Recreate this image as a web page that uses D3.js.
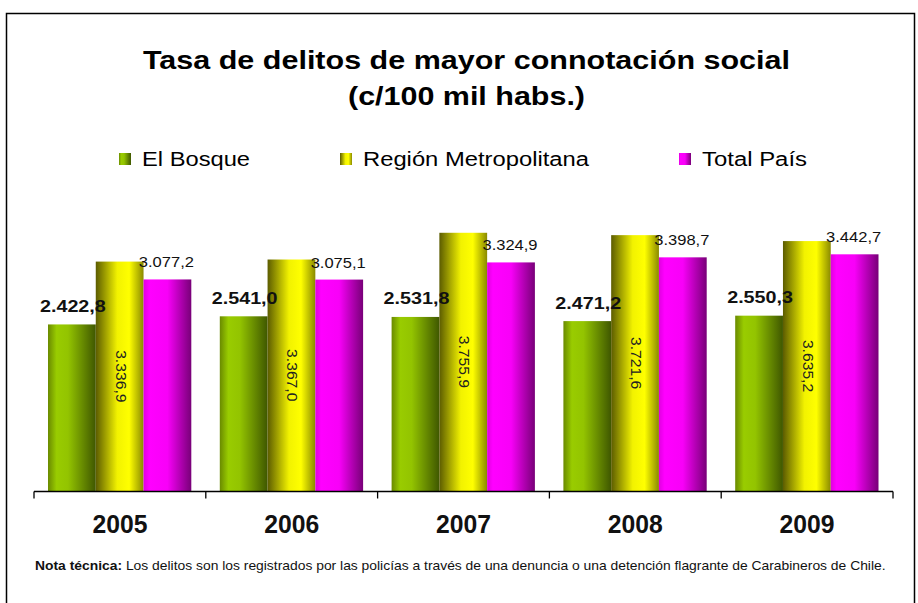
<!DOCTYPE html>
<html><head><meta charset="utf-8">
<script src="https://cdn.jsdelivr.net/npm/d3@7/dist/d3.min.js"></script>
<style>
html,body{margin:0;padding:0;background:#fff;}
svg{display:block;font-family:"Liberation Sans",Arial,sans-serif;}
</style></head>
<body>
<svg id="chart" width="918" height="603"></svg>
<script>
const years = ["2005","2006","2007","2008","2009"];
const seriesNames = ["El Bosque","Región Metropolitana","Total País"];
const elBosque = [2422.8, 2541.0, 2531.8, 2471.2, 2550.3];
const regionMetro = [3336.9, 3367.0, 3755.9, 3721.6, 3635.2];
const totalPais = [3077.2, 3075.1, 3324.9, 3398.7, 3442.7];
const titleLines = ["Tasa de delitos de mayor connotación social","(c/100 mil habs.)"];
const noteBold = "Nota técnica:";
const noteText = " Los delitos son los registrados por las policías a través de una denuncia o una detención flagrante de Carabineros de Chile.";

const seriesValues = [elBosque, regionMetro, totalPais];
const gradStops = [
  [[0,"#6a8a00"],[0.18,"#99cc00"],[0.42,"#93c400"],[1,"#3f5700"]],
  [[0,"#5c5c00"],[0.45,"#f2f200"],[0.7,"#ffff00"],[1,"#8a8a00"]],
  [[0,"#e000e0"],[0.12,"#ff00ff"],[0.5,"#f800f8"],[1,"#780078"]]
];

const svg = d3.select("#chart");
const loc = d3.formatLocale({decimal:",", thousands:".", grouping:[3], currency:["",""]});
const fmt = loc.format(",.1f");

const defs = svg.append("defs");
gradStops.forEach((stops,i)=>{
  const g = defs.append("linearGradient").attr("id","g"+i).attr("x1","0").attr("x2","1").attr("y1","0").attr("y2","0");
  stops.forEach(s=>g.append("stop").attr("offset",s[0]).attr("stop-color",s[1]));
});

function fitWidth(sel, w){ sel.attr("textLength", w).attr("lengthAdjust","spacingAndGlyphs"); }
function stretch(sel, k){ sel.each(function(){ const L=this.getComputedTextLength(); d3.select(this).attr("textLength", L*k).attr("lengthAdjust","spacingAndGlyphs"); }); }

// frame
svg.append("path").attr("d","M6.5,620 V13.5 H914.5 V620").attr("fill","none").attr("stroke","#000").attr("stroke-width",1.5);

// title
const t1 = svg.append("text").attr("x",466.5).attr("y",69).attr("text-anchor","middle")
  .attr("font-size",26).attr("font-weight","bold").attr("fill","#000").text(titleLines[0]);
fitWidth(t1,647);
const t2 = svg.append("text").attr("x",466.5).attr("y",105).attr("text-anchor","middle")
  .attr("font-size",26).attr("font-weight","bold").attr("fill","#000").text(titleLines[1]);
fitWidth(t2,237);

// legend
const legendX = [119, 340, 679];
const legendW = [108, 226, 105];
seriesNames.forEach((n,i)=>{
  svg.append("rect").attr("x",legendX[i]).attr("y",153).attr("width",12).attr("height",12).attr("fill","url(#g"+i+")");
  const t = svg.append("text").attr("x",legendX[i]+23).attr("y",165.5).attr("font-size",20).attr("fill","#000").text(n);
  fitWidth(t, legendW[i]);
});

// scales
const x0 = d3.scaleBand().domain(years).range([34, 893]).padding(0);
const bw = x0.bandwidth();
const x1 = d3.scaleBand().domain(seriesNames).range([14, bw-14.5]).padding(0);
const y = d3.scaleLinear().domain([0,4000]).range([491, 216]);

const groups = svg.append("g").selectAll("g").data(years).join("g")
  .attr("transform", d=>`translate(${x0(d)},0)`);

groups.each(function(yr, yi){
  const g = d3.select(this);
  seriesNames.forEach((s, si)=>{
    const v = seriesValues[si][yi];
    g.append("rect").attr("x", x1(s)).attr("y", y(v)).attr("width", x1.bandwidth())
      .attr("height", y(0)-y(v)).attr("fill","url(#g"+si+")");
  });
});

// labels
groups.each(function(yr, yi){
  const g = d3.select(this);
  const cx = s => x1(s) + x1.bandwidth()/2;
  const v0 = elBosque[yi];
  const a = g.append("text").attr("x", cx(seriesNames[0])+1).attr("y", y(v0)-12.5)
    .attr("text-anchor","middle").attr("font-size",17).attr("font-weight","bold").attr("fill","#111").text(fmt(v0));
  stretch(a, 1.16);
  const v1 = regionMetro[yi];
  const my = (y(v1)+y(0))/2;
  const b = g.append("text").attr("transform", `translate(${cx(seriesNames[1])+1},${my}) rotate(90)`)
    .attr("text-anchor","middle").attr("dominant-baseline","central").attr("font-size",14).attr("fill","#222").text(fmt(v1));
  stretch(b, 1.12);
  const v2 = totalPais[yi];
  const c = g.append("text").attr("x", cx(seriesNames[2])-1).attr("y", y(v2)-12)
    .attr("text-anchor","middle").attr("font-size",14).attr("fill","#111").text(fmt(v2));
  stretch(c, 1.18);
});

// x axis
const axis = d3.axisBottom(x0).tickSize(0).tickPadding(0).tickFormat("");
const ax = svg.append("g").attr("transform","translate(0,491.5)").call(axis);
ax.select(".domain").attr("stroke","#000").attr("stroke-width",1.3).attr("d","M34,0H893");
const bounds = years.map(d=>x0(d)).concat([x0.range()[1]]);
ax.selectAll(".bnd").data(bounds).join("line").attr("class","bnd")
  .attr("x1",d=>d).attr("x2",d=>d).attr("y1",0).attr("y2",7).attr("stroke","#000").attr("stroke-width",1.3);
ax.selectAll(".yr").data(years).join("text").attr("class","yr")
  .attr("x", d=>x0(d)+bw/2).attr("y", 41).attr("text-anchor","middle")
  .attr("font-size",25).attr("font-weight","bold").attr("fill","#111")
  .attr("font-family","'Liberation Sans',Arial,sans-serif").text(d=>d)
  .attr("textLength",55).attr("lengthAdjust","spacingAndGlyphs");

// note
const note = svg.append("text").attr("font-size",12.5).attr("fill","#111");
note.append("tspan").attr("font-weight","bold").text(noteBold);
note.append("tspan").text(noteText);
const nw = note.node().getComputedTextLength();
note.attr("transform", `translate(35,570) scale(${852/nw},1)`);
</script>
</body></html>
